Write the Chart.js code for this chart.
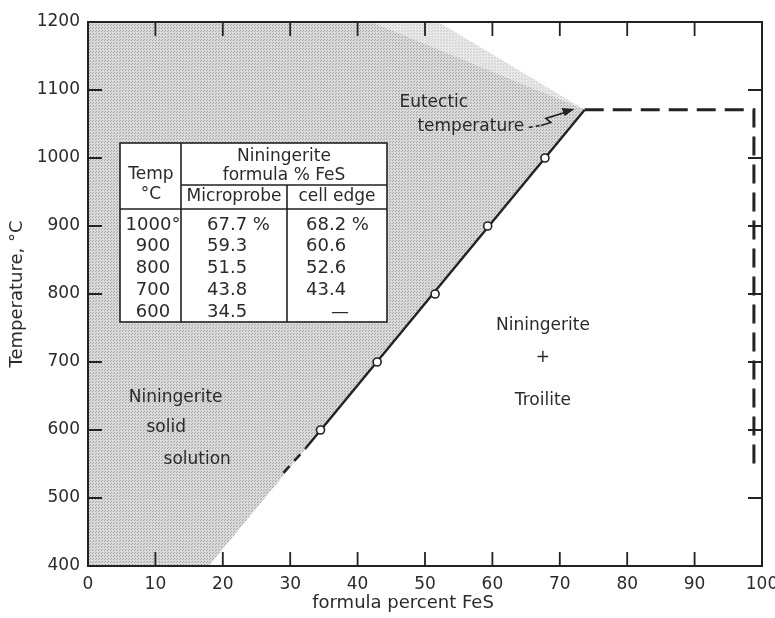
<!DOCTYPE html>
<html><head><meta charset="utf-8">
<script src="https://cdn.jsdelivr.net/npm/chart.js@4"></script>
<style>html,body{margin:0;padding:0;background:#fff}#wrap{width:775px;height:618px}</style>
</head><body><div id="wrap"><canvas id="c" width="775" height="618"></canvas></div>
<script>
// ---- data ----
const xTickValues = [0,10,20,30,40,50,60,70,80,90,100];
const yTickValues = [400,500,600,700,800,900,1000,1100,1200];
const probeFeS  = [67.8, 59.3, 51.5, 42.9, 34.5];
const probeTemp = [1000, 900, 800, 700, 600];
const tableTemp  = ['1000°','900','800','700','600'];
const tableProbe = ['67.7 %','59.3','51.5','43.8','34.5'];
const tableCell  = ['68.2 %','60.6','52.6','43.4','—'];
const solvusFeS  = [32.3, 73.7];
const solvusTemp = [573, 1071];
const solvusExtFeS  = [29.0, 32.3];
const solvusExtTemp = [537, 573];
const eutecticFeS  = [73.7, 98.8, 98.8];
const eutecticTemp = [1071, 1071, 548];
const shadeLowerFeS  = [0, 17.9, 73.7];
const shadeLowerTemp = [400, 400, 1071];
const shadeInnerFeS  = [0, 42, 73.7];
const shadeInnerTemp = [1200, 1200, 1071];
const shadeOuterFeS  = [0, 52, 73.7];
const shadeOuterTemp = [1200, 1200, 1071];

const zip = (xs, ys) => xs.map((x, i) => ({x, y: ys[i]}));
const FONT = "'DejaVu Sans', sans-serif";
const INK = '#222';
const TXT = '#2a2a2a';

const canvas = document.getElementById('c');
const ctx = canvas.getContext('2d');
function makePattern(base, dot) {
  const c = document.createElement('canvas'); c.width = 3; c.height = 3;
  const g = c.getContext('2d');
  g.fillStyle = base; g.fillRect(0, 0, 3, 3);
  g.fillStyle = dot; g.fillRect(0, 0, 1, 1); g.fillRect(2, 1, 1, 1);
  return ctx.createPattern(c, 'repeat');
}
const lightShade = makePattern('#e9e9e9', '#cbcbcb');
const darkShade = makePattern('#dadada', '#a4a4a4');

const decor = {
  id: 'decor',
  afterDraw(chart) {
    const {ctx, chartArea: a, scales: {x, y}} = chart;
    ctx.save();
    ctx.strokeStyle = INK; ctx.fillStyle = INK;
    // frame
    ctx.lineWidth = 2;
    ctx.strokeRect(a.left, a.top, a.right - a.left, a.bottom - a.top);
    // inward ticks on all four sides
    const L = 14;
    ctx.lineWidth = 1.8;
    ctx.beginPath();
    xTickValues.slice(1, -1).forEach(v => {
      const px = x.getPixelForValue(v);
      ctx.moveTo(px, a.bottom); ctx.lineTo(px, a.bottom - L);
      ctx.moveTo(px, a.top); ctx.lineTo(px, a.top + L);
    });
    yTickValues.slice(1, -1).forEach(v => {
      const py = y.getPixelForValue(v);
      ctx.moveTo(a.left, py); ctx.lineTo(a.left + L, py);
      ctx.moveTo(a.right, py); ctx.lineTo(a.right - L, py);
    });
    ctx.stroke();

    // x axis title
    ctx.fillStyle = TXT;
    ctx.font = '18px ' + FONT;
    ctx.textAlign = 'center'; ctx.textBaseline = 'middle';
    ctx.fillText('formula percent FeS', 403, 603);

    // table inset
    const cols = [120, 181, 287, 387];
    const rows = [143, 185, 209, 322];
    ctx.fillStyle = '#fff';
    ctx.fillRect(cols[0], rows[0], cols[3] - cols[0], rows[3] - rows[0]);
    ctx.lineWidth = 1.6; ctx.strokeStyle = INK;
    ctx.strokeRect(cols[0], rows[0], cols[3] - cols[0], rows[3] - rows[0]);
    ctx.beginPath();
    ctx.moveTo(cols[1], rows[0]); ctx.lineTo(cols[1], rows[3]);
    ctx.moveTo(cols[2], rows[1]); ctx.lineTo(cols[2], rows[3]);
    ctx.moveTo(cols[1], rows[1]); ctx.lineTo(cols[3], rows[1]);
    ctx.moveTo(cols[0], rows[2]); ctx.lineTo(cols[3], rows[2]);
    ctx.stroke();
    ctx.fillStyle = TXT;
    ctx.font = '17px ' + FONT;
    ctx.textBaseline = 'middle'; ctx.textAlign = 'center';
    ctx.fillText('Niningerite', 284, 157);
    ctx.fillText('formula % FeS', 284, 176);
    ctx.fillText('Temp', 151, 175);
    ctx.fillText('°C', 151, 195);
    ctx.fillText('Microprobe', 234, 197);
    ctx.fillText('cell edge', 337, 197);
    ctx.font = '18px ' + FONT;
    tableTemp.forEach((t, i) => {
      const ty = 225 + i * 21.8;
      ctx.textAlign = 'center';
      ctx.fillText(t, 153, ty);
      ctx.textAlign = 'left';
      ctx.fillText(tableProbe[i], 207, ty);
      if (tableCell[i] === '—') { ctx.textAlign = 'center'; ctx.fillText(tableCell[i], 340, ty); }
      else ctx.fillText(tableCell[i], 306, ty);
    });

    // region labels
    ctx.font = '17px ' + FONT; ctx.textAlign = 'center';
    const lbl = (t, fx, ty) => ctx.fillText(t, x.getPixelForValue(fx), y.getPixelForValue(ty));
    lbl('Eutectic', 51.3, 1081);
    lbl('temperature', 56.8, 1046);
    lbl('Niningerite', 67.5, 754);
    lbl('+', 67.5, 706);
    lbl('Troilite', 67.5, 644);
    lbl('Niningerite', 13.0, 647);
    lbl('solid', 11.6, 604);
    lbl('solution', 16.2, 556);

    // squiggly arrow to eutectic point
    const sx = x.getPixelForValue(65.4), sy = y.getPixelForValue(1045);
    const ex = x.getPixelForValue(72.2), ey = y.getPixelForValue(1072);
    ctx.strokeStyle = INK; ctx.fillStyle = INK;
    ctx.lineWidth = 1.6;
    ctx.setLineDash([4, 3]);
    ctx.beginPath(); ctx.moveTo(sx, sy); ctx.lineTo(sx + 12, sy - 2); ctx.stroke();
    ctx.setLineDash([]);
    ctx.beginPath();
    ctx.moveTo(sx + 12, sy - 2);
    ctx.lineTo(sx + 22, sy - 5);
    ctx.lineTo(sx + 17, sy - 9);
    ctx.lineTo(ex - 8, ey + 3);
    ctx.stroke();
    ctx.beginPath();
    ctx.moveTo(ex, ey); ctx.lineTo(ex - 13, ey - 1); ctx.lineTo(ex - 10, ey + 7); ctx.closePath();
    ctx.fill();
    ctx.restore();
  }
};

const hidden = {showLine: true, borderWidth: 0, borderColor: 'rgba(0,0,0,0)', pointRadius: 0};
new Chart(ctx, {
  type: 'scatter',
  data: {
    datasets: [
      Object.assign({label: 'lower', data: zip(shadeLowerFeS, shadeLowerTemp), fill: false, order: 4}, hidden),
      Object.assign({label: 'inner', data: zip(shadeInnerFeS, shadeInnerTemp), fill: 0, backgroundColor: darkShade, order: 5}, hidden),
      Object.assign({label: 'outer', data: zip(shadeOuterFeS, shadeOuterTemp), fill: 0, backgroundColor: lightShade, order: 6}, hidden),
      {label: 'solvus ext', data: zip(solvusExtFeS, solvusExtTemp), showLine: true, borderColor: INK, borderWidth: 2.6, borderDash: [9, 7], pointRadius: 0, fill: false, order: 3},
      {label: 'solvus', data: zip(solvusFeS, solvusTemp), showLine: true, borderColor: INK, borderWidth: 2.4, pointRadius: 0, fill: false, order: 2},
      {label: 'eutectic', data: zip(eutecticFeS, eutecticTemp), showLine: true, borderColor: INK, borderWidth: 3, borderDash: [19, 9], pointRadius: 0, fill: false, order: 1},
      {label: 'microprobe', data: zip(probeFeS, probeTemp), showLine: false, pointRadius: 4, pointBackgroundColor: '#fff', pointBorderColor: INK, pointBorderWidth: 1.6, order: 0}
    ]
  },
  options: {
    responsive: false, animation: false, devicePixelRatio: 1,
    layout: {padding: {top: 22, right: 13, left: 0, bottom: 0}},
    plugins: {legend: {display: false}, tooltip: {enabled: false}, filler: {drawTime: 'beforeDatasetsDraw'}},
    scales: {
      x: {
        type: 'linear', min: 0, max: 100,
        afterBuildTicks: s => { s.ticks = xTickValues.map(v => ({value: v})); },
        ticks: {font: {family: FONT, size: 17}, color: TXT, padding: 8, maxRotation: 0, autoSkip: false, callback: v => String(v)},
        grid: {display: false, drawTicks: false}, border: {display: false},
        title: {display: false, text: 'formula percent FeS'},
        afterFit: s => { s.height = 52; s.paddingLeft = 0; s.paddingRight = 0; }
      },
      y: {
        type: 'linear', min: 400, max: 1200,
        afterBuildTicks: s => { s.ticks = yTickValues.map(v => ({value: v})); },
        ticks: {font: {family: FONT, size: 17}, color: TXT, padding: 8, autoSkip: false, callback: v => String(v)},
        grid: {display: false, drawTicks: false}, border: {display: false},
        title: {display: true, text: 'Temperature, °C', font: {family: FONT, size: 18}, color: TXT, padding: {top: 7, bottom: 0}},
        afterFit: s => { s.width = 88; s.paddingTop = 0; s.paddingBottom = 0; }
      }
    }
  },
  plugins: [decor]
});
</script>
</body></html>
